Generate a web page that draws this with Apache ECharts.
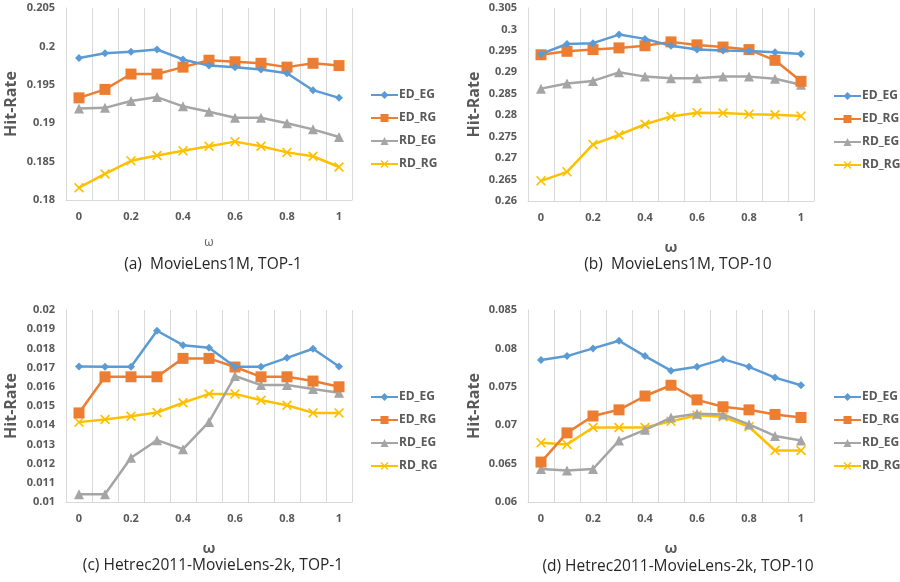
<!DOCTYPE html>
<html>
<head>
<meta charset="utf-8">
<script src="https://cdn.jsdelivr.net/npm/echarts@6/dist/echarts.min.js"></script>
<style>html,body{margin:0;padding:0;background:#fff;}#chart{width:900px;height:582px;}</style>
</head>
<body>
<div id="chart"></div>
<script>
const categories = ['0','0.1','0.2','0.3','0.4','0.5','0.6','0.7','0.8','0.9','1'];
const seriesNames = ['ED_EG','ED_RG','RD_EG','RD_RG'];
const captions = ['(a)  MovieLens1M, TOP-1','(b)  MovieLens1M, TOP-10','(c) Hetrec2011-MovieLens-2k, TOP-1','(d) Hetrec2011-MovieLens-2k, TOP-10'];
const xTitle = 'ω';
const yTitle = 'Hit-Rate';

// Panel (a)
const a_ED_EG = [0.1985,0.1991,0.1993,0.1996,0.1983,0.1975,0.1973,0.1970,0.1965,0.1943,0.1933];
const a_ED_RG = [0.1933,0.1944,0.1964,0.1964,0.1973,0.1982,0.1980,0.1978,0.1973,0.1978,0.1975];
const a_RD_EG = [0.1919,0.1920,0.1929,0.1934,0.1922,0.1915,0.1907,0.1907,0.1900,0.1892,0.1882];
const a_RD_RG = [0.1816,0.1834,0.1851,0.1858,0.1864,0.1870,0.1876,0.1870,0.1862,0.1857,0.1843];
// Panel (b)
const b_ED_EG = [0.2943,0.2966,0.2968,0.2988,0.2978,0.2962,0.2953,0.2951,0.2950,0.2947,0.2943];
const b_ED_RG = [0.2941,0.2949,0.2953,0.2957,0.2962,0.2971,0.2964,0.2959,0.2953,0.2928,0.2879];
const b_RD_EG = [0.2862,0.2874,0.2880,0.2900,0.2890,0.2886,0.2886,0.2890,0.2890,0.2885,0.2871];
const b_RD_RG = [0.2647,0.2668,0.2732,0.2754,0.2779,0.2797,0.2806,0.2805,0.2802,0.2801,0.2798];
// Panel (c)
const c_ED_EG = [0.01706,0.01704,0.01704,0.01892,0.01817,0.01803,0.01704,0.01704,0.01751,0.01798,0.01706];
const c_ED_RG = [0.01464,0.01652,0.01652,0.01652,0.01748,0.01748,0.01703,0.01652,0.01652,0.01630,0.01600];
const c_RD_EG = [0.01040,0.01040,0.01230,0.01322,0.01275,0.01417,0.01656,0.01609,0.01609,0.01588,0.01569];
const c_RD_RG = [0.01416,0.01430,0.01447,0.01466,0.01517,0.01563,0.01563,0.01530,0.01504,0.01464,0.01464];
// Panel (d)
const d_ED_EG = [0.0785,0.0790,0.0800,0.0810,0.0790,0.0771,0.0776,0.0786,0.0776,0.0762,0.0752];
const d_ED_RG = [0.0652,0.0690,0.0712,0.0720,0.0738,0.0752,0.0733,0.0724,0.0720,0.0714,0.0710];
const d_RD_EG = [0.0643,0.0641,0.0643,0.0680,0.0694,0.0710,0.0715,0.0714,0.0701,0.0686,0.0680];
const d_RD_RG = [0.0677,0.0675,0.0697,0.0697,0.0697,0.0705,0.0713,0.0711,0.0698,0.0667,0.0667];

// y-axis ranges [min, max, interval]
const yRanges = [[0.18,0.205,0.005],[0.26,0.305,0.005],[0.01,0.02,0.001],[0.06,0.085,0.005]];

const panelData = [
  [a_ED_EG,a_ED_RG,a_RD_EG,a_RD_RG],
  [b_ED_EG,b_ED_RG,b_RD_EG,b_RD_RG],
  [c_ED_EG,c_ED_RG,c_RD_EG,c_RD_RG],
  [d_ED_EG,d_ED_RG,d_RD_EG,d_RD_RG]
];

const colors = ['#5B9BD5','#ED7D31','#A5A5A5','#FFC000'];
const xSym = 'path://M0,1.2L1.2,0L5,3.8L8.8,0L10,1.2L6.2,5L10,8.8L8.8,10L5,6.2L1.2,10L0,8.8L3.8,5Z';
const symbols = ['diamond','rect',  'triangle', xSym];
const symSizes = [8,11,10,10];

const grids = [
  {left:66, top:8, width:286, height:192},
  {left:528, top:8, width:286, height:193},
  {left:66, top:310, width:286, height:192},
  {left:528, top:310, width:286, height:192}
];
const legendPos = [{left:365, top:84},{left:828, top:85},{left:365, top:386},{left:828, top:386}];
const captionPos = [[213,265],[678,265],[213,566],[678,567]];

const axisGray = '#595959';
const lineGray = '#D9D9D9';
const FONT = 'Open Sans';

const option = {
  animation:false,
  backgroundColor:'#fff',
  color:colors,
  grid: grids,
  xAxis: grids.map((g,i)=>({
    type:'category', gridIndex:i, data:categories, boundaryGap:true,
    axisLine:{show:true, lineStyle:{color:lineGray, width:1}},
    axisTick:{show:false},
    splitLine:{show:true, interval:0, lineStyle:{color:lineGray, width:1}},
    axisLabel:{interval:1, color:axisGray, fontSize:11, fontWeight:'bold', fontFamily:FONT, margin:11},
    name:xTitle, nameLocation:'middle', nameGap:(i===0?37:39),
    nameTextStyle:{color:axisGray, fontSize:(i===0?12:15), fontWeight:(i===0?'normal':'bold'), fontFamily:FONT}
  })),
  yAxis: grids.map((g,i)=>({
    type:'value', gridIndex:i, min:yRanges[i][0], max:yRanges[i][1], interval:yRanges[i][2],
    axisLine:{show:true, lineStyle:{color:lineGray}}, axisTick:{show:false}, splitLine:{show:false},
    axisLabel:{color:axisGray, fontSize:11, fontWeight:'bold', fontFamily:FONT, margin:11},
    name:yTitle, nameLocation:'middle', nameGap:(i%2===0?47:46), nameRotate:90,
    nameTextStyle:{color:axisGray, fontSize:16, fontWeight:'bold', fontFamily:FONT}
  })),
  legend: legendPos.map((p)=>({
    orient:'vertical', left:p.left, top:p.top, itemWidth:27, itemHeight:10, itemGap:11,
    data:seriesNames, selectedMode:false,
    textStyle:{color:axisGray, fontSize:12, fontWeight:'bold', fontFamily:FONT, padding:[0,0,0,-4]}
  })),
  series: [],
  graphic: captions.map((t,i)=>({
    type:'text', x:captionPos[i][0], y:captionPos[i][1],
    style:{text:t, fill:'#262626', font:'15.5px "Open Sans"', textAlign:'center', textVerticalAlign:'middle'}
  }))
};

panelData.forEach((arr,pi)=>{
  arr.forEach((vals,si)=>{
    option.series.push({
      type:'line', name:seriesNames[si], xAxisIndex:pi, yAxisIndex:pi,
      data:vals, symbol:symbols[si], symbolSize:symSizes[si],
      lineStyle:{width:2.5, color:colors[si]},
      itemStyle:{color:colors[si]},
      z: 10 - si
    });
  });
});

const chart = echarts.init(document.getElementById('chart'), null, {renderer:'canvas'});
chart.setOption(option);
</script>
</body>
</html>
